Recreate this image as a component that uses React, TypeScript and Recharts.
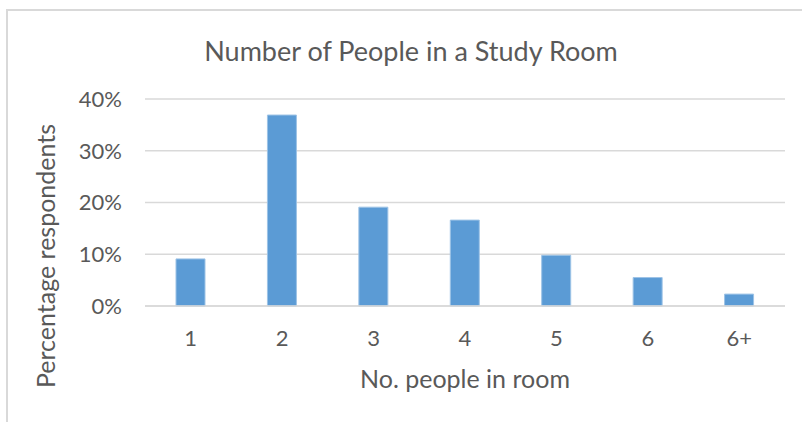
import React from 'react';
import { BarChart, Bar, XAxis, YAxis, CartesianGrid } from 'recharts';

const categories = ['1', '2', '3', '4', '5', '6', '6+'];
const percentages = [9.1, 36.9, 19.1, 16.6, 9.8, 5.5, 2.3];
const yTicks = [0, 10, 20, 30, 40];

const chartTitle = 'Number of People in a Study Room';
const xTitle = 'No. people in room';
const yTitle = 'Percentage respondents';

const data = categories.map((name, i) => ({ name, value: percentages[i] }));

const font = 'Lato, "Open Sans", sans-serif';
const textColor = '#595959';

const App: React.FC = () => {
  return (
    <div style={{ position: 'absolute', left: 0, top: 0, width: 802, height: 422, background: '#fff', fontFamily: font, overflow: 'hidden' }}>
      {/* outer chart frame, only top and left edges fall inside the picture */}
      <div style={{ position: 'absolute', left: 6, top: 9, width: 820, height: 440, borderTop: '2px solid #d9d9d9', borderLeft: '2px solid #d9d9d9' }} />
      <div style={{ position: 'absolute', left: 411, top: 50, transform: 'translate(-50%, -50%)', fontSize: 27, color: textColor, whiteSpace: 'nowrap' }}>
        {chartTitle}
      </div>
      <div style={{ position: 'absolute', left: 465, top: 378, transform: 'translate(-50%, -50%)', fontSize: 25, color: textColor, whiteSpace: 'nowrap' }}>
        {xTitle}
      </div>
      <div style={{ position: 'absolute', left: 45, top: 256, transform: 'translate(-50%, -50%) rotate(-90deg)', fontSize: 25, color: textColor, whiteSpace: 'nowrap' }}>
        {yTitle}
      </div>
      <div style={{ position: 'absolute', left: 0, top: 0 }}>
        <BarChart width={802} height={422} data={data} margin={{ top: 99, right: 17, bottom: 86, left: 85 }}>
          <CartesianGrid vertical={false} stroke="#d9d9d9" strokeWidth={1.5} />
          <XAxis
            dataKey="name"
            height={30}
            tickLine={false}
            tickSize={0}
            tickMargin={24}
            axisLine={{ stroke: '#d9d9d9', strokeWidth: 1.5 }}
            tick={{ fill: textColor, fontSize: 22, fontFamily: font }}
          />
          <YAxis
            width={60}
            domain={[0, 40]}
            ticks={yTicks}
            tickFormatter={(v: number) => `${v}%`}
            axisLine={false}
            tickLine={false}
            tickSize={0}
            tickMargin={23}
            tick={{ fill: textColor, fontSize: 22, fontFamily: font }}
          />
          <Bar dataKey="value" fill="#5b9bd5" stroke="#9dc3e6" strokeWidth={1} barSize={29} isAnimationActive={false} />
        </BarChart>
      </div>
    </div>
  );
};

export default App;
